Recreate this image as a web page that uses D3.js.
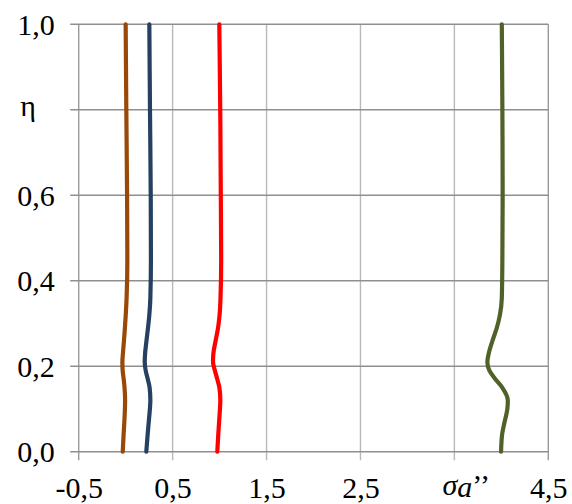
<!DOCTYPE html>
<html>
<head>
<meta charset="utf-8">
<script src="https://cdn.jsdelivr.net/npm/d3@7"></script>
<style>
  html, body { margin: 0; padding: 0; background: #fff; }
  svg { display: block; }
  .lbl { font-family: "Liberation Serif", "Times New Roman", Times, "DejaVu Serif", "Noto Serif", serif; font-size: 30px; fill: #000; }
</style>
</head>
<body>
<svg id="chart" width="572" height="504"></svg>
<script>
// Relative height η (shared by all profiles)
const eta = [0, 0.04, 0.07, 0.10, 0.12, 0.15, 0.17, 0.19, 0.21, 0.23, 0.26, 0.29, 0.32, 0.36, 0.45, 0.60, 0.80, 1.00];

// Stress profiles σa'' along η
const seriesBrown = [-0.031, -0.022, -0.014, -0.008, -0.006, -0.012, -0.021, -0.032, -0.035, -0.029, -0.018, -0.008, 0.001, 0.010, 0.018, 0.015, 0.007, 0.000];
const seriesBlue  = [0.220, 0.234, 0.246, 0.258, 0.263, 0.255, 0.235, 0.213, 0.203, 0.207, 0.222, 0.238, 0.252, 0.263, 0.269, 0.267, 0.259, 0.252];
const seriesRed   = [0.976, 0.986, 0.995, 1.004, 1.008, 0.998, 0.975, 0.950, 0.930, 0.934, 0.958, 0.984, 1.000, 1.010, 1.017, 1.013, 1.007, 0.997];
const seriesGreen = [3.997, 4.008, 4.035, 4.064, 4.069, 4.010, 3.935, 3.872, 3.851, 3.866, 3.906, 3.952, 3.985, 4.005, 4.011, 4.014, 4.011, 4.005];

// Axis ticks and their labels
const xTicks = [-0.5, 0.5, 1.5, 2.5, 3.5, 4.5];
const xTickLabels = ["-0,5", "0,5", "1,5", "2,5", "", "4,5"];
const yTicks = [0, 0.2, 0.4, 0.6, 0.8, 1.0];
const yTickLabels = ["0,0", "0,2", "0,4", "0,6", "", "1,0"];

const series = [
  { values: seriesBrown, color: "#984807" },
  { values: seriesBlue,  color: "#254061" },
  { values: seriesRed,   color: "#ff0000" },
  { values: seriesGreen, color: "#4f6228" }
];

const svg = d3.select("#chart");
const plotLeft = 78.7, plotRight = 548.3, plotTop = 24.3, plotBottom = 451.7;

const x = d3.scaleLinear().domain([-0.5, 4.5]).range([plotLeft, plotRight]);
const y = d3.scaleLinear().domain([0, 1]).range([plotBottom, plotTop]);

// Vertical grid lines (extend below the axis as tick marks)
svg.append("g").selectAll("line").data(xTicks).join("line")
  .attr("x1", d => x(d)).attr("x2", d => x(d))
  .attr("y1", plotTop).attr("y2", plotBottom + 8.5)
  .attr("stroke", (d, i) => (i === 0 || i === xTicks.length - 1) ? "#9a9a9a" : "#b8b8b8")
  .attr("stroke-width", 1.4);

// Horizontal grid lines (extend left of the axis as tick marks)
svg.append("g").selectAll("line").data(yTicks).join("line")
  .attr("x1", plotLeft - 8.5).attr("x2", plotRight)
  .attr("y1", d => y(d)).attr("y2", d => y(d))
  .attr("stroke", "#8f8f8f")
  .attr("stroke-width", 1.4);

// Y axis labels
const yAxis = d3.axisLeft(y).tickValues(yTicks).tickSize(0).tickPadding(0)
  .tickFormat((d, i) => yTickLabels[i]);
const gy = svg.append("g").attr("transform", `translate(${plotLeft - 24},0)`).call(yAxis);
gy.attr("font-family", null).attr("font-size", null);
gy.select(".domain").remove();
gy.selectAll("text").attr("class", "lbl").attr("fill", null).attr("dy", "0.33em");

// X axis labels
const xAxis = d3.axisBottom(x).tickValues(xTicks).tickSize(0).tickPadding(0)
  .tickFormat((d, i) => xTickLabels[i]);
const gx = svg.append("g").attr("transform", `translate(0,${plotBottom + 25})`).call(xAxis);
gx.attr("font-family", null).attr("font-size", null);
gx.select(".domain").remove();
gx.selectAll("text").attr("class", "lbl").attr("fill", null).attr("dy", "0.71em");

// Axis titles placed in the tick-label rows
svg.append("text").attr("class", "lbl")
  .attr("x", 28).attr("y", y(0.8) + 6)
  .attr("text-anchor", "middle")
  .text("η");

const sig = svg.append("text").attr("class", "lbl")
  .attr("x", x(3.5) - 12).attr("y", 495);
sig.append("tspan").attr("font-style", "italic").text("σ");
sig.append("tspan").attr("font-style", "italic").attr("dy", 2).text("a");
sig.append("tspan").attr("dy", -2).text("’’");

// Profile curves
const line = d3.line()
  .x(d => x(d[0]))
  .y(d => y(d[1]))
  .curve(d3.curveMonotoneY);

svg.append("g").selectAll("path").data(series).join("path")
  .attr("d", s => line(s.values.map((v, i) => [v, eta[i]])))
  .attr("fill", "none")
  .attr("stroke", s => s.color)
  .attr("stroke-width", 4.2)
  .attr("stroke-linecap", "round")
  .attr("stroke-linejoin", "round");
</script>
</body>
</html>
